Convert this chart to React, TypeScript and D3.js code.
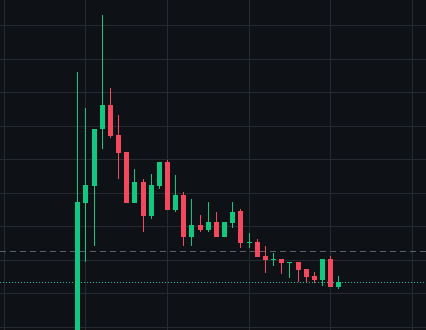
import React from "react";
import * as d3 from "d3";

const W = 426;
const H = 330;

// OHLC values (price units) per candle, in order
const opens = [-0.55, 3.69, 4.2, 5.9, 6.62, 5.72, 5.22, 3.69, 4.32, 3.3, 4.2, 4.92, 3.48, 3.93, 2.68, 3.03, 2.88, 3.12, 2.68, 3.09, 3.45, 2.5, 2.53, 2.11, 1.99, 2.02, 1.9, 1.93, 1.72, 1.51, 1.39, 2.02, 1.18];
const highs = [7.61, 6.53, 5.9, 9.31, 7.13, 6.32, 5.22, 4.71, 4.41, 4.56, 4.92, 4.98, 4.53, 4.02, 3.81, 3.33, 3.72, 3.42, 3.12, 3.72, 3.51, 2.79, 2.62, 2.41, 2.2, 2.02, 1.93, 1.93, 1.72, 1.63, 2.02, 2.11, 1.51];
const lows = [-0.55, 1.93, 2.41, 5.31, 5.63, 4.41, 3.69, 3.69, 2.82, 3.21, 4.11, 3.48, 3.42, 2.41, 2.41, 2.82, 2.82, 2.68, 2.68, 2.94, 2.35, 2.35, 2.08, 1.61, 1.81, 1.58, 1.45, 1.33, 1.33, 1.3, 1.21, 1.18, 1.12];
const closes = [3.72, 4.23, 5.9, 6.62, 5.69, 5.19, 3.69, 4.32, 3.3, 4.23, 4.92, 3.48, 3.93, 2.68, 3.03, 2.88, 3.12, 2.68, 3.12, 3.42, 2.5, 2.53, 2.08, 1.99, 2.02, 1.9, 1.93, 1.69, 1.48, 1.39, 2.02, 1.18, 1.33];

const priceTicks = [0, 1, 2, 3, 4, 5, 6, 7, 8, 9];
const timeTicks = [-9, 1, 11, 21, 31, 41];
const refLevel = 2.26; // dashed reference line
const lastPrice = 1.33; // dotted last-price line

const BG = "#0e1116";
const GRID = "#262a31";
const UP = "#12c77f";
const DOWN = "#f2495f";

export default function App() {
  const x = d3.scaleLinear().domain([0, 32]).range([77.3, 338.3]);
  const y = d3.scaleLinear().domain([0, 9]).range([326.5, 25.4]);
  const bodyW = 5;

  const candles = opens.map((o, i) => ({
    o,
    h: highs[i],
    l: lows[i],
    c: closes[i],
    i,
  }));

  return (
    <svg
      width={W}
      height={H}
      style={{ position: "absolute", left: 0, top: 0, display: "block" }}
    >
      <rect x={0} y={0} width={W} height={H} fill={BG} />
      {priceTicks.map((t) => (
        <line
          key={"h" + t}
          x1={0}
          x2={W}
          y1={Math.round(y(t)) + 0.5}
          y2={Math.round(y(t)) + 0.5}
          stroke={GRID}
          strokeWidth={1}
        />
      ))}
      {timeTicks.map((t) => (
        <line
          key={"v" + t}
          x1={Math.round(x(t)) + 0.5}
          x2={Math.round(x(t)) + 0.5}
          y1={0}
          y2={H}
          stroke={GRID}
          strokeWidth={1}
        />
      ))}
      <line
        x1={0}
        x2={W}
        y1={Math.round(y(refLevel)) + 0.5}
        y2={Math.round(y(refLevel)) + 0.5}
        stroke="#5a5e66"
        strokeWidth={1}
        strokeDasharray="6,4"
      />
      <line
        x1={0}
        x2={W}
        y1={Math.round(y(lastPrice)) + 0.5}
        y2={Math.round(y(lastPrice)) + 0.5}
        stroke="#22b996"
        strokeWidth={1}
        strokeDasharray="1,2"
      />
      {candles.map((d) => {
        const up = d.c >= d.o;
        const color = up ? UP : DOWN;
        const cx = Math.round(x(d.i));
        const top = Math.round(y(Math.max(d.o, d.c)));
        const bot = Math.round(y(Math.min(d.o, d.c)));
        return (
          <g key={d.i}>
            <rect
              x={cx}
              y={Math.round(y(d.h))}
              width={1}
              height={Math.max(1, Math.round(y(d.l)) - Math.round(y(d.h)))}
              fill={color}
            />
            <rect
              x={cx - 2}
              y={top}
              width={bodyW}
              height={Math.max(1, bot - top)}
              fill={color}
            />
          </g>
        );
      })}
    </svg>
  );
}
